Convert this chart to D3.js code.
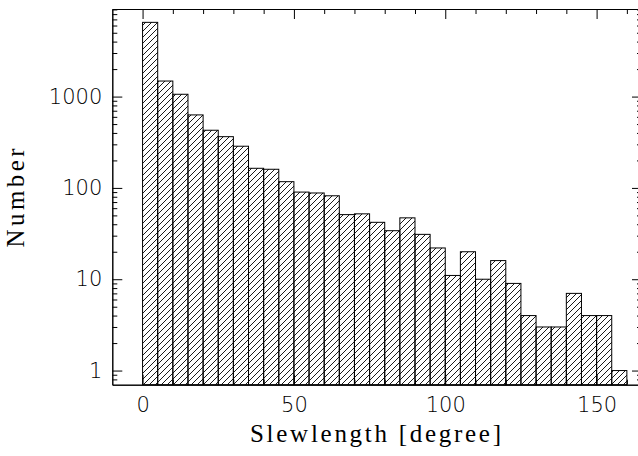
<!DOCTYPE html>
<html>
<head>
<meta charset="utf-8">
<script src="https://cdn.jsdelivr.net/npm/d3@7"></script>
<style>
  body { margin: 0; background: #fff; }
  svg { display: block; }
</style>
</head>
<body>
<svg id="chart"></svg>
<script>
// histogram bins (left edge, degrees) and counts per 5 degree bin
const binStarts = [0,5,10,15,20,25,30,35,40,45,50,55,60,65,70,75,80,85,90,95,
                   100,105,110,115,120,125,130,135,140,145,150,155]
const counts = [6500,1480,1060,630,428,364,286,164,160,117,90,88,82,51,52,42,34,47,31,22,
                11,20,10,16,9,4,3,3,7,4,4,1]
const binWidth = 5
const xMajorTicks = [0,50,100,150]
const xMinorTicks = [10,20,30,40,60,70,80,90,110,120,130,140,160]
const yMajorTicks = [1,10,100,1000]
const yMinorTicks = [0.8,0.9,2,3,4,5,6,7,8,9,20,30,40,50,60,70,80,90,
                     200,300,400,500,600,700,800,900,2000,3000,4000,5000,6000,7000,8000,9000]

const W = 638, H = 456
const margin = {left: 112.3, right: 642, top: 9, bottom: 384.7}

const svg = d3.select('#chart').attr('width', W).attr('height', H)
svg.append('rect').attr('width', W).attr('height', H).attr('fill', '#fff')

// diagonal hatch like IDL line_fill
const defs = svg.append('defs')
const pat = defs.append('pattern')
    .attr('id', 'hatch')
    .attr('patternUnits', 'userSpaceOnUse')
    .attr('width', 6).attr('height', 6)
pat.append('path')
    .attr('d', 'M0,6 L6,0 M-1,1 L1,-1 M5,7 L7,5')
    .attr('stroke', '#000')
    .attr('stroke-width', 0.9)

const x = d3.scaleLinear().domain([-10, 165]).range([margin.left, margin.right])
const y = d3.scaleLog().domain([0.7, 9100]).range([margin.bottom, margin.top])

const data = binStarts.map((b, i) => ({x0: b, v: counts[i]}))

svg.append('g').selectAll('rect')
    .data(data)
    .join('rect')
    .attr('x', d => x(d.x0))
    .attr('width', d => x(d.x0 + binWidth) - x(d.x0))
    .attr('y', d => y(d.v))
    .attr('height', d => y(0.7) - y(d.v))
    .attr('fill', 'url(#hatch)')
    .attr('stroke', '#000')
    .attr('stroke-width', 1)

const tickFont = 'DejaVu Sans'

function styleAxis(g) {
    g.select('.domain').attr('stroke', '#000').attr('stroke-width', 1)
    g.selectAll('.tick line').attr('stroke', '#000').attr('stroke-width', 1)
    g.selectAll('.tick text')
        .attr('fill', '#000')
        .style('font-family', tickFont)
        .style('font-weight', 200)
        .style('font-size', '21px')
}

// bottom axis, ticks pointing inward
svg.append('g')
    .attr('transform', 'translate(0,' + margin.bottom + ')')
    .call(d3.axisBottom(x).tickValues(xMajorTicks).tickSizeInner(-10).tickSizeOuter(0).tickPadding(12).tickFormat(d3.format('d')))
    .call(styleAxis)
svg.append('g')
    .attr('transform', 'translate(0,' + margin.bottom + ')')
    .call(d3.axisBottom(x).tickValues(xMinorTicks).tickSizeInner(-5).tickSizeOuter(0).tickFormat(''))
    .call(styleAxis)

// top axis
svg.append('g')
    .attr('transform', 'translate(0,' + margin.top + ')')
    .call(d3.axisTop(x).tickValues(xMajorTicks).tickSizeInner(-10).tickSizeOuter(0).tickFormat(''))
    .call(styleAxis)
svg.append('g')
    .attr('transform', 'translate(0,' + margin.top + ')')
    .call(d3.axisTop(x).tickValues(xMinorTicks).tickSizeInner(-5).tickSizeOuter(0).tickFormat(''))
    .call(styleAxis)

// left axis
svg.append('g')
    .attr('transform', 'translate(' + margin.left + ',0)')
    .call(d3.axisLeft(y).tickValues(yMajorTicks).tickSizeInner(-10).tickSizeOuter(0).tickPadding(10).tickFormat(d3.format('d')))
    .call(styleAxis)
svg.append('g')
    .attr('transform', 'translate(' + margin.left + ',0)')
    .call(d3.axisLeft(y).tickValues(yMinorTicks).tickSizeInner(-5).tickSizeOuter(0).tickFormat(''))
    .call(styleAxis)

// right axis (falls just outside the picture, only the ticks show)
svg.append('g')
    .attr('transform', 'translate(' + margin.right + ',0)')
    .call(d3.axisRight(y).tickValues(yMajorTicks).tickSizeInner(-10).tickSizeOuter(0).tickFormat(''))
    .call(styleAxis)
svg.append('g')
    .attr('transform', 'translate(' + margin.right + ',0)')
    .call(d3.axisRight(y).tickValues(yMinorTicks).tickSizeInner(-5).tickSizeOuter(0).tickFormat(''))
    .call(styleAxis)

// axis titles
svg.append('text')
    .attr('x', 375.5)
    .attr('y', 442)
    .attr('text-anchor', 'middle')
    .attr('textLength', 251)
    .attr('lengthAdjust', 'spacing')
    .style('font-family', 'Liberation Serif')
    .style('font-size', '25px')
    .text('Slewlength [degree]')

svg.append('text')
    .attr('transform', 'translate(24,198) rotate(-90)')
    .attr('text-anchor', 'middle')
    .attr('textLength', 99)
    .attr('lengthAdjust', 'spacing')
    .style('font-family', 'Liberation Serif')
    .style('font-size', '25px')
    .text('Number')
</script>
</body>
</html>
